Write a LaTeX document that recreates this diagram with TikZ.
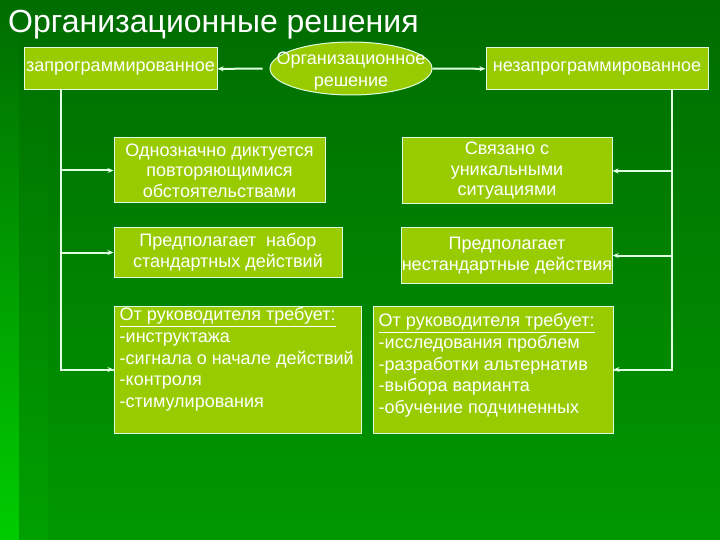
\documentclass[tikz,border=0pt]{standalone}
\usepackage{fontspec}
\setmainfont{Liberation Sans}
\usetikzlibrary{shapes.geometric, arrows.meta, calc}
\definecolor{boxolive}{RGB}{153,204,0}
\definecolor{bgdark}{RGB}{0,108,0}
\definecolor{bgmid}{RGB}{0,152,0}
\definecolor{bgbright}{RGB}{0,204,0}
\definecolor{linepale}{RGB}{225,255,225}

\begin{document}
\begin{tikzpicture}[x=1pt, y=-1pt, >={Stealth[length=6pt, width=5pt]},
        decbox/.style={draw=linepale, line width=1pt, fill=boxolive, text=white, inner sep=0pt,
            font=\fontsize{18}{20.5}\selectfont, align=center},
        reqtext/.style={text=white, inner sep=0pt, align=left, anchor=north west,
            font=\fontsize{18}{21.6}\selectfont},
        link/.style={draw=linepale, line width=2pt}]
        % Slide background
        \shade[top color=bgdark, bottom color=bgmid] (0,0) rectangle (720,540);
        \shade[top color=bgdark, bottom color=bgbright] (0,0) rectangle (19,540);
        \shade[top color=bgdark, bottom color=bgmid!85!bgbright] (19,0) rectangle (48,540);
        \useasboundingbox (0,0) rectangle (720,540);

        % Title
        \node[anchor=west, text=white, inner sep=0pt, font=\fontsize{32}{36}\selectfont] (title) at (8,25) {Организационные решения};

        % Top row
        \node[decbox, ellipse, minimum width=162pt, minimum height=53pt] (orgdec) at (351,68.5) {};
        \node[text=white, inner sep=0pt, align=center, font=\fontsize{18}{22}\selectfont] (orgtext) at (351,71) {Организационное\\решение};
        \node[decbox, minimum width=193pt, minimum height=42pt] (zaprog) at (120.5,69) {запрограммированное};
        \node[decbox, minimum width=222pt, minimum height=42pt] (nezaprog) at (597,69) {незапрограммированное};

        % Left column
        \node[decbox, minimum width=211pt, minimum height=65pt] (lbox1) at (219.5,170.5) {Однозначно диктуется\\повторяющимися\\обстоятельствами};
        \node[decbox, minimum width=228pt, minimum height=49pt] (lbox2) at (228,252.5) {Предполагает\ \ набор\\стандартных действий};
        \node[decbox, minimum width=247pt, minimum height=127pt] (lbox3) at (237.5,369.5) {};
        \node[reqtext] (lreq) at ($(lbox3.north west)+(6,2)$) {\underline{От руководителя требует:}\\
            -инструктажа\\
            -сигнала о начале действий\\
            -контроля\\
            -стимулирования};

        % Right column
        \node[decbox, minimum width=210pt, minimum height=66pt] (rbox1) at (507,171) {Связано с\\уникальными\\ситуациями};
        \node[decbox, minimum width=210pt, minimum height=55pt] (rbox2) at (507,255.5) {Предполагает\\нестандартные действия};
        \node[decbox, minimum width=240pt, minimum height=127pt] (rbox3) at (493,369.5) {};
        \node[reqtext] (rreq) at ($(rbox3.north west)+(6,8)$) {\underline{От руководителя требует:}\\
            -исследования проблем\\
            -разработки альтернатив\\
            -выбора варианта\\
            -обучение подчиненных};

        % Bus lines
        \coordinate (lbus) at (61,0);
        \coordinate (rbus) at (672,0);

        % Arrows
        \draw[link, ->, shorten <=7pt] (orgdec) -- (zaprog);
        \draw[link, ->] (orgdec) -- (nezaprog);
        \draw[link] (zaprog.south -| lbus) |- (lbox3.west);
        \draw[link, ->] (lbus |- lbox1.west) -- (lbox1.west);
        \draw[link, ->] (lbus |- lbox2.west) -- (lbox2.west);
        \draw[link, ->] (lbus |- lbox3.west) -- (lbox3.west);
        \draw[link] (nezaprog.south -| rbus) |- (rbox3.east);
        \draw[link, ->] (rbus |- rbox1.east) -- (rbox1.east);
        \draw[link, ->] (rbus |- rbox2.east) -- (rbox2.east);
        \draw[link, ->] (rbus |- rbox3.east) -- (rbox3.east);
    \end{tikzpicture}
\end{document}
